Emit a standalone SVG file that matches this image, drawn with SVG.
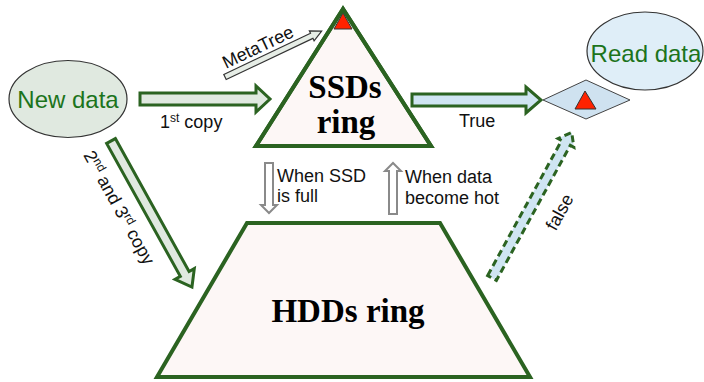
<svg xmlns="http://www.w3.org/2000/svg" width="704" height="382" viewBox="0 0 704 382">
  <style>
    .ring { fill: #fdf7f6; stroke: #2b6321; stroke-width: 4; stroke-linejoin: miter; }
    .ringtxt { font-family: "Liberation Serif", "Times New Roman", serif; font-weight: bold; font-size: 33px; fill: #000; text-anchor: middle; }
    .lbl { font-family: "Liberation Sans", Arial, sans-serif; font-size: 18px; fill: #111; }
    .nodetxt { font-family: "Liberation Sans", Arial, sans-serif; font-size: 24px; fill: #1c741c; }
    .ell { stroke: #333; stroke-width: 1.2; }
    .green-arrow { stroke: #2b6321; stroke-width: 3; stroke-linejoin: miter; }
    .gray-arrow { fill: #fff; stroke: #8a8a8a; stroke-width: 2; }
    .flag { fill: #ff2200; stroke: #333; stroke-width: 1; }
  </style>

  <!-- SSD tier -->
  <g id="ssd-ring">
    <polygon id="ssd-shape" class="ring" points="343,9 256,146 431,146"/>
    <polygon class="flag" points="343,13 334,29 352,29"/>
    <polygon points="343,9 256,146 431,146" fill="none" stroke="#2b6321" stroke-width="4"/>
    <text class="ringtxt" x="345" y="98">SSDs</text>
    <text class="ringtxt" x="346" y="133" font-size="32">ring</text>
  </g>

  <!-- HDD tier -->
  <g id="hdd-ring">
    <polygon class="ring" points="247,223 440,223 530,377 157,377"/>
    <text class="ringtxt" x="348" y="322" font-size="32">HDDs ring</text>
  </g>

  <!-- incoming writes -->
  <g id="new-data">
    <ellipse class="ell" cx="68" cy="99" rx="59" ry="38.5" fill="#e0e9e0"/>
    <text class="nodetxt" x="68" y="108" text-anchor="middle">New data</text>
  </g>

  <!-- read request -->
  <g id="read-data">
    <ellipse class="ell" cx="645" cy="51" rx="58" ry="39" fill="#dfeef8"/>
    <text class="nodetxt" x="646" y="62" text-anchor="middle">Read data</text>
  </g>

  <!-- lookup decision -->
  <g id="lookup">
    <polygon points="543,100 586,80 630,100 586,119" fill="#cfe2f0" stroke="#444" stroke-width="1"/>
    <polygon class="flag" points="585,91 575,109 596,109"/>
  </g>

  <g id="connectors">
    <!-- first copy to SSDs -->
    <path class="green-arrow" fill="#e0e9e0" d="M140,93 H256 V86 L270,99 L256,112 V105 H140 Z"/>
    <text class="lbl" x="160" y="128">1<tspan font-size="12" dy="-6">st</tspan><tspan dy="6"> copy</tspan></text>

    <!-- MetaTree -->
    <path fill="#e6ede6" stroke="#333" stroke-width="1.2" transform="translate(225,77) rotate(-25.4)" d="M0,-2.8 H96 V-5.5 L107,0 L96,5.5 V2.8 H0 Z"/>
    <text class="lbl" font-size="17.5" transform="translate(226,69) rotate(-25.4)">MetaTree</text>

    <!-- hit path -->
    <path class="green-arrow" fill="#cfe5f2" d="M412,94 H526 V87 L541,100 L526,113 V106 H412 Z"/>
    <text class="lbl" x="459" y="127">True</text>

    <!-- 2nd and 3rd copy to HDDs -->
    <path class="green-arrow" fill="#e0e9e0" transform="translate(111,141) rotate(61)" d="M0,-5 H152 V-11 L167,0 L152,11 V5 H0 Z"/>
    <text class="lbl" font-size="18.5" transform="translate(83,155) rotate(61)">2<tspan font-size="12" dy="-6">nd</tspan><tspan dy="6"> and 3</tspan><tspan font-size="12" dy="-6">rd</tspan><tspan dy="6"> copy</tspan></text>

    <!-- miss path from HDDs -->
    <path fill="#cfe5f2" stroke="#2b6321" stroke-width="3" stroke-dasharray="7,4" transform="translate(492,278) rotate(-61.3)" d="M0,-5 H154 V-9 L166,0 L154,9 V5 H0 Z"/>
    <text class="lbl" text-anchor="middle" transform="translate(565,215) rotate(-61.3)">false</text>

    <!-- demotion -->
    <path class="gray-arrow" d="M265,163 H273 V205 H277 L269,213 L261,205 H265 Z"/>
    <text class="lbl" x="277" y="182">When SSD</text>
    <text class="lbl" x="277" y="202">is full</text>

    <!-- promotion -->
    <path class="gray-arrow" d="M389,214 H397 V171 H401 L393,163 L385,171 H389 Z"/>
    <text class="lbl" x="405" y="183">When data</text>
    <text class="lbl" x="405" y="204">become hot</text>
  </g>
</svg>
